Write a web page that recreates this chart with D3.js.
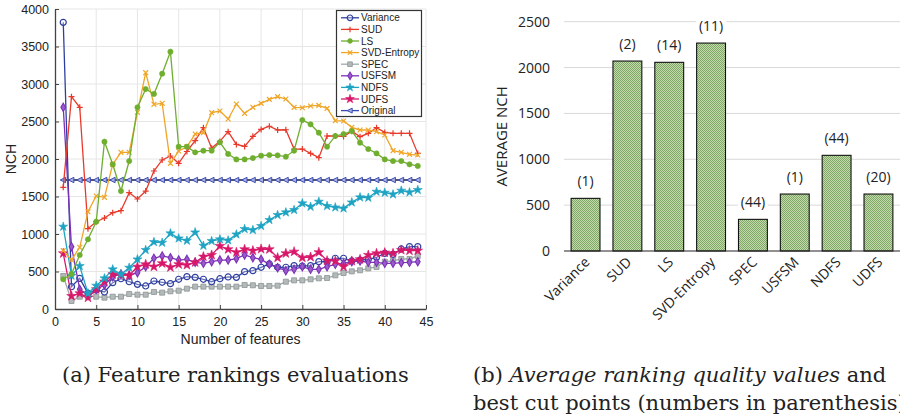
<!DOCTYPE html>
<html>
<head>
<meta charset="utf-8">
<script src="https://cdn.jsdelivr.net/npm/d3@7"></script>
<style>
  body { margin: 0; background: #fff; }
  svg { display: block; }
</style>
</head>
<body>
<svg id="chart" width="900" height="418"></svg>
<script>
// number of features on the x axis (1..44)
const features = [1,2,3,4,5,6,7,8,9,10,11,12,13,14,15,16,17,18,19,20,21,22,23,24,25,26,27,28,29,30,31,32,33,34,35,36,37,38,39,40,41,42,43,44];

const variance = [3822,297,409,209,253,227,351,404,364,329,307,373,356,338,396,431,422,396,364,404,427,422,498,511,556,600,556,556,578,573,578,631,631,676,676,640,653,662,689,742,729,800,831,831];
const sud = [1622,2831,2689,1071,1164,1213,1284,1311,1551,1467,1573,1840,1987,2040,1942,2100,2244,2418,2145,2235,2364,2195,2168,2302,2395,2437,2387,2390,2133,2133,2075,2018,2307,2307,2300,2370,2298,2342,2418,2355,2342,2342,2342,2075];
const ls = [396,467,720,929,1164,2231,1929,1573,1973,2689,2933,2867,3138,3431,2164,2164,2089,2111,2111,2222,2067,1995,1995,2013,2044,2053,2049,2031,2111,2520,2462,2351,2164,2307,2333,2373,2218,2133,2075,1995,1973,1973,1929,1907];
const svdEntropy = [778,653,822,1298,1507,1489,1929,2089,2089,2622,3151,2729,2742,1942,2106,2164,2333,2351,2618,2640,2533,2733,2609,2689,2742,2795,2831,2800,2689,2684,2707,2715,2675,2511,2507,2422,2387,2387,2364,2320,2111,2089,2062,2053];
const spec = [440,107,164,173,164,151,164,164,200,191,191,227,218,236,244,271,298,298,298,298,298,298,320,316,307,307,311,364,382,382,396,409,413,449,480,502,516,542,560,631,640,667,667,707];
const usfsm = [2689,831,262,187,262,320,431,467,449,484,564,676,707,684,653,662,622,609,631,653,653,671,720,684,662,596,551,511,529,564,529,529,564,596,609,631,640,622,622,609,609,618,622,631];
const ndfs = [1098,444,573,209,311,409,529,462,551,662,787,893,884,1009,942,911,1022,844,907,929,915,995,1067,1053,1107,1187,1253,1289,1320,1409,1364,1431,1373,1355,1342,1422,1489,1484,1564,1551,1529,1578,1556,1587];
const udfs = [742,173,209,151,262,364,462,453,449,564,596,564,609,556,596,587,622,698,720,840,796,756,796,778,800,796,684,742,764,684,693,756,644,640,564,640,662,720,742,751,742,787,778,778];
const original = features.map(() => 1720);

const seriesNames = ["Variance","SUD","LS","SVD-Entropy","SPEC","USFSM","NDFS","UDFS","Original"];
const seriesValues = [variance, sud, ls, svdEntropy, spec, usfsm, ndfs, udfs, original];

const xTicks = [0,5,10,15,20,25,30,35,40,45];
const yTicks = [0,500,1000,1500,2000,2500,3000,3500,4000];

// right chart
const methods = ["Variance","SUD","LS","SVD-Entropy","SPEC","USFSM","NDFS","UDFS"];
const avgNch = [574,2071,2057,2267,345,621,1043,621];
const cutPoints = [1,2,14,11,44,1,44,20];
const barTicks = [0,500,1000,1500,2000,2500];

const svg = d3.select("#chart");

// ---------- (a) line chart ----------
const left = {x0: 55, x1: 426, y0: 309, y1: 9};

const x = d3.scaleLinear().domain([0, 45]).range([left.x0, left.x1]);
const y = d3.scaleLinear().domain([0, 4000]).range([left.y0, left.y1]);

const gA = svg.append("g").style("font-family", "'Liberation Sans', Arial, sans-serif");

// grid
gA.selectAll(".vgrid").data(xTicks.filter(d => d > 0)).enter().append("line")
    .attr("x1", d => x(d)).attr("x2", d => x(d))
    .attr("y1", left.y0).attr("y2", left.y1)
    .attr("stroke", "#e6e6e6").attr("stroke-width", 1);
gA.selectAll(".hgrid").data(yTicks.filter(d => d > 0)).enter().append("line")
    .attr("x1", left.x0).attr("x2", left.x1)
    .attr("y1", d => y(d)).attr("y2", d => y(d))
    .attr("stroke", "#e6e6e6").attr("stroke-width", 1);

// axes (matlab style, ticks inward)
const xAxis = gA.append("g")
    .attr("transform", `translate(0,${left.y0})`)
    .call(d3.axisBottom(x).tickValues(xTicks).tickFormat(d3.format("d")).tickSizeInner(-4).tickSizeOuter(0).tickPadding(8));
const yAxis = gA.append("g")
    .attr("transform", `translate(${left.x0},0)`)
    .call(d3.axisLeft(y).tickValues(yTicks).tickFormat(d3.format("d")).tickSizeInner(-4).tickSizeOuter(0).tickPadding(6));
[xAxis, yAxis].forEach(a => {
    a.select(".domain").attr("stroke", "#444").attr("stroke-width", 1.3);
    a.selectAll(".tick line").attr("stroke", "#444");
    a.selectAll("text").attr("fill", "#222").style("font-size", "12.5px");
});

gA.append("text")
    .attr("x", (left.x0 + left.x1) / 2).attr("y", 344)
    .attr("text-anchor", "middle").style("font-size", "14px").attr("fill", "#222")
    .text("Number of features");
gA.append("text")
    .attr("transform", `translate(16,${(left.y0 + left.y1) / 2}) rotate(-90)`)
    .attr("text-anchor", "middle").style("font-size", "14px").attr("fill", "#222")
    .text("NCH");

const colors = ["#2f3f9f","#e8392b","#6fae2e","#f0a526","#a2a8a8","#7c31b6","#1ea3c2","#d8176a","#3b4cb0"];
const lineColors = colors.slice(0, 8).concat(["#1b1b3a"]);

function markerPath(name, s) {
    const h = s / 2;
    switch (name) {
        case "Variance": return d3.symbol(d3.symbolCircle, s * s * 0.8)();
        case "SUD": return `M${-h},0H${h}M0,${-h}V${h}`;
        case "LS": return d3.symbol(d3.symbolCircle, s * s * 0.6)();
        case "SVD-Entropy": return `M${-h*0.8},${-h*0.8}L${h*0.8},${h*0.8}M${-h*0.8},${h*0.8}L${h*0.8},${-h*0.8}`;
        case "SPEC": return d3.symbol(d3.symbolSquare, s * s * 0.7)();
        case "USFSM": return d3.symbol(d3.symbolDiamond, s * s * 0.55)();
        case "NDFS": return d3.symbol(d3.symbolStar, s * s * 0.7)();
        case "UDFS": return d3.symbol(d3.symbolStar, s * s * 0.8)();
        case "Original": return `M${-h},0L${h*0.8},${-h*0.9}L${h*0.8},${h*0.9}Z`;
    }
}
function markerStyle(sel, name, c) {
    if (name === "Variance") sel.attr("fill", "#fff").attr("fill-opacity", 0.3).attr("stroke", c).attr("stroke-width", 1.2);
    else if (name === "SUD" || name === "SVD-Entropy") sel.attr("fill", "none").attr("stroke", c).attr("stroke-width", 1.2);
    else if (name === "SPEC") sel.attr("fill", "#b4baba").attr("stroke", "#8c9494").attr("stroke-width", 0.8);
    else if (name === "USFSM") sel.attr("fill", "#9a5ccc").attr("stroke", c).attr("stroke-width", 1.1);
    else if (name === "Original") sel.attr("fill", "#aab4e6").attr("stroke", c).attr("stroke-width", 1);
    else sel.attr("fill", c).attr("stroke", c).attr("stroke-width", 0.6);
}

const line = d3.line().x((d, i) => x(features[i])).y(d => y(d));

// draw in order so Original sits beneath, then others
const drawOrder = [8, 4, 0, 5, 7, 6, 1, 3, 2];
drawOrder.forEach(si => {
    const name = seriesNames[si];
    const vals = seriesValues[si];
    const g = gA.append("g");
    g.append("path").datum(vals)
        .attr("d", line).attr("fill", "none")
        .attr("stroke", lineColors[si]).attr("stroke-width", 1.3);
    const m = g.selectAll("path.mk").data(vals).enter().append("path")
        .attr("class", "mk")
        .attr("transform", (d, i) => `translate(${x(features[i])},${y(d)})`)
        .attr("d", markerPath(name, 6));
    markerStyle(m, name, colors[si]);
});

// legend
const lg = gA.append("g");
lg.append("rect").attr("x", 336.5).attr("y", 10.5).attr("width", 85).attr("height", 106)
    .attr("fill", "#fff").attr("stroke", "#333").attr("stroke-width", 1.2);
seriesNames.forEach((name, i) => {
    const cy = 17.8 + i * 11.6;
    lg.append("line").attr("x1", 341).attr("x2", 359).attr("y1", cy).attr("y2", cy)
        .attr("stroke", lineColors[i] === "#1b1b3a" ? colors[i] : lineColors[i]).attr("stroke-width", 1.3);
    const mk = lg.append("path").attr("transform", `translate(350,${cy})`).attr("d", markerPath(name, 5.5));
    markerStyle(mk, name, colors[i]);
    lg.append("text").attr("x", 361).attr("y", cy + 3.6)
        .style("font-size", "10px").attr("fill", "#222").text(name);
});

// ---------- (b) bar chart ----------
const right = {x0: 564, x1: 900, y0: 251, y1: 21.7};
const gB = svg.append("g").style("font-family", "'Open Sans', 'Noto Sans', sans-serif");

const defs = svg.append("defs");
const pat = defs.append("pattern").attr("id", "chk").attr("patternUnits", "userSpaceOnUse")
    .attr("width", 2).attr("height", 2);
pat.append("rect").attr("width", 2).attr("height", 2).attr("fill", "#c3dbab");
pat.append("rect").attr("width", 1).attr("height", 1).attr("fill", "#7fa767");
pat.append("rect").attr("x", 1).attr("y", 1).attr("width", 1).attr("height", 1).attr("fill", "#7fa767");

const xb = d3.scaleBand().domain(methods).range([right.x0, right.x1]).paddingInner(0.31).paddingOuter(0.17);
const yb = d3.scaleLinear().domain([0, 2500]).range([right.y0, right.y1]);

gB.selectAll(".bgrid").data(barTicks.filter(d => d > 0)).enter().append("line")
    .attr("x1", right.x0).attr("x2", right.x1)
    .attr("y1", d => yb(d)).attr("y2", d => yb(d))
    .attr("stroke", "#d9d9d9").attr("stroke-width", 1);

gB.selectAll(".ytl").data(barTicks).enter().append("text")
    .attr("x", 550).attr("y", d => yb(d) + 5)
    .attr("text-anchor", "end").style("font-size", "14px").attr("fill", "#222")
    .text(d => d);

gB.append("text")
    .attr("transform", `translate(507,${(right.y0 + right.y1) / 2}) rotate(-90)`)
    .attr("text-anchor", "middle").style("font-size", "15px").attr("fill", "#222")
    .text("AVERAGE NCH");

gB.selectAll(".bar").data(methods).enter().append("rect")
    .attr("x", d => xb(d)).attr("width", xb.bandwidth())
    .attr("y", (d, i) => yb(avgNch[i])).attr("height", (d, i) => right.y0 - yb(avgNch[i]))
    .attr("fill", "url(#chk)").attr("stroke", "#111").attr("stroke-width", 1.1);

gB.append("line").attr("x1", right.x0).attr("x2", right.x1)
    .attr("y1", right.y0).attr("y2", right.y0).attr("stroke", "#222").attr("stroke-width", 1.2);

// value labels with white background
methods.forEach((m, i) => {
    const cx = xb(m) + xb.bandwidth() / 2;
    const lab = gB.append("g");
    const t = lab.append("text").attr("x", cx).attr("y", yb(avgNch[i]) - 12)
        .attr("text-anchor", "middle").style("font-size", "14px").attr("fill", "#222")
        .text(`(${cutPoints[i]})`);
    const bb = t.node().getBBox();
    lab.insert("rect", "text").attr("x", bb.x - 3).attr("y", bb.y).attr("width", bb.width + 6)
        .attr("height", bb.height).attr("fill", "#fff");
});

gB.selectAll(".xtl").data(methods).enter().append("text")
    .attr("transform", d => `translate(${xb(d) + xb.bandwidth() / 2 + 5},${right.y0 + 12}) rotate(-45)`)
    .attr("text-anchor", "end").style("font-size", "14px").attr("fill", "#222")
    .text(d => d);

// ---------- captions ----------
const cap = svg.append("g").style("font-family", "'DejaVu Serif', serif").attr("fill", "#222");
cap.append("text").attr("x", 62).attr("y", 382).style("font-size", "21px")
    .text("(a) Feature rankings evaluations");
const c1 = cap.append("text").attr("x", 473).attr("y", 382).style("font-size", "21px");
c1.append("tspan").text("(b) ");
c1.append("tspan").style("font-style", "italic").text("Average ranking quality values");
c1.append("tspan").text(" and");
cap.append("text").attr("x", 473).attr("y", 410).style("font-size", "21px")
    .text("best cut points (numbers in parenthesis)");
</script>
</body>
</html>
